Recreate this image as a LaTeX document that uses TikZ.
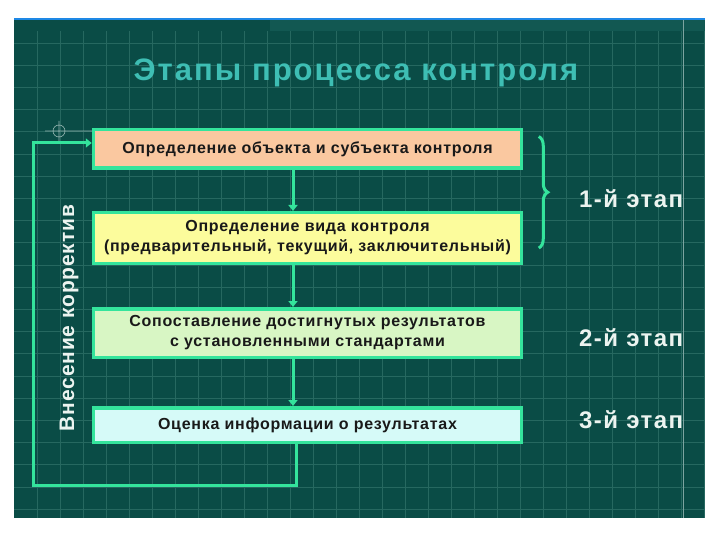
\documentclass[tikz,border=0pt]{standalone}
\usepackage{fontspec}
\setmainfont{Liberation Sans}
\usepackage{xcolor}
\usepackage{tikz}
\usetikzlibrary{arrows.meta,positioning,decorations.pathreplacing}
\definecolor{slidebg}{RGB}{10,76,70}
\definecolor{slideband}{RGB}{18,88,82}
\definecolor{gridline}{RGB}{38,104,96}
\definecolor{mint}{RGB}{52,228,156}
\definecolor{titleteal}{RGB}{62,190,180}
\definecolor{peach}{RGB}{250,200,160}
\definecolor{paleyellow}{RGB}{252,252,156}
\definecolor{palegreen}{RGB}{216,246,196}
\definecolor{palecyan}{RGB}{214,250,248}
\definecolor{labelwhite}{RGB}{236,244,240}
\definecolor{topline}{RGB}{30,136,229}
\tikzset{
  stagebox/.style={
    rectangle, draw=mint, fill=#1, line width=3.5pt,
    minimum width=428pt, align=center,
    font=\bfseries\addfontfeatures{LetterSpace=4.5}\fontsize{16}{20}\selectfont,
    text=black!90, inner sep=3pt},
  stagebox/.default=peach,
  stagelabel/.style={
    anchor=west, inner sep=0pt, text=labelwhite,
    font=\bfseries\addfontfeatures{LetterSpace=6}\fontsize{24}{28}\selectfont},
  flowarrow/.style={-{Triangle[length=6pt,width=9pt]}, line width=3pt, draw=mint},
}

\begin{document}
\begin{tikzpicture}[x=1pt,y=-1pt]
  % slide
  \fill[white] (0,0) rectangle (720,540);
  \fill[slidebg] (14,19) rectangle (705,518);
  \fill[slideband] (270,20) rectangle (705,31);
  \draw[topline, line width=2.5pt] (14,19) -- (705,19);
  \foreach \gx in {37,60,...,705}
    \draw[gridline, line width=0.7pt] (\gx,31) -- (\gx,518);
  \foreach \gy in {43,65.2,...,518}
    \draw[gridline, line width=0.7pt] (14,\gy) -- (705,\gy);
  \draw[gridline!60!white, line width=0.7pt] (683,20) -- (683,518);
  \draw[gridline!50!white, line width=0.6pt] (59,131) circle (6) (45,131) -- (92,131) (59,121) -- (59,141);

  \node[text=titleteal, font=\bfseries\addfontfeatures{LetterSpace=6.5}\fontsize{31}{36}\selectfont] (title) at (356,73) {Этапы процесса контроля};

  \node[stagebox=peach, minimum height=38.5pt] (objekt) at (307.5,149) {Определение объекта и субъекта контроля};
  \node[stagebox=paleyellow, minimum height=50.5pt, below=41pt of objekt] (vid) {Определение вида контроля\\(предварительный, текущий, заключительный)};
  \node[stagebox=palegreen, minimum height=48.5pt, below=42pt of vid] (sopost) {Сопоставление достигнутых результатов\\с установленными стандартами};
  \node[stagebox=palecyan, minimum height=34.5pt, below=47pt of sopost] (ocenka) {Оценка информации о результатах};

  \draw[flowarrow] ([xshift=-14.5pt]objekt.south) -- ([xshift=-14.5pt]vid.north);
  \draw[flowarrow] ([xshift=-14.5pt]vid.south) -- ([xshift=-14.5pt]sopost.north);
  \draw[flowarrow] ([xshift=-14.5pt]sopost.south) -- ([xshift=-14.5pt]ocenka.north);

  % feedback
  \coordinate (loopcorner) at (33,485);
  \draw[flowarrow] ([xshift=-11.5pt]ocenka.south) |- (loopcorner) |- ([yshift=6pt]objekt.west);
  \node[rotate=90, text=labelwhite, font=\bfseries\addfontfeatures{LetterSpace=4}\fontsize{21}{24}\selectfont] (korrektiv) at (69,318) {Внесение корректив};

  \draw[mint, line width=3pt, decorate, decoration={brace, amplitude=9pt}]
    ([xshift=15.5pt,yshift=-8.5pt]objekt.north east) -- ([xshift=15.5pt,yshift=17pt]vid.south east);

  \node[stagelabel] (etap1) at (579,199) {1-й этап};
  \node[stagelabel] (etap2) at (579,338) {2-й этап};
  \node[stagelabel] (etap3) at (579,420) {3-й этап};
\end{tikzpicture}
\end{document}
